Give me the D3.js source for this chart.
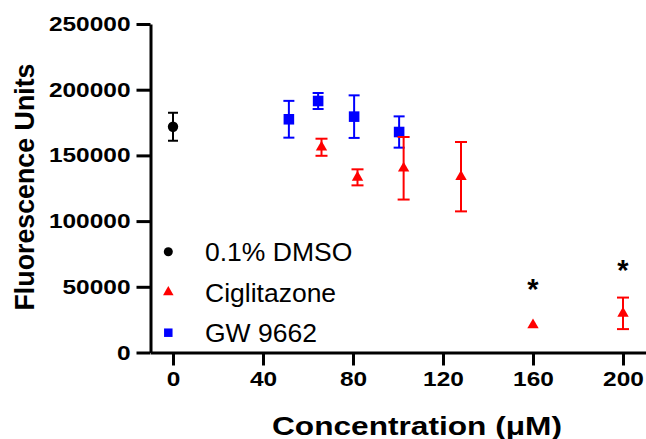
<!DOCTYPE html>
<html>
<head>
<meta charset="utf-8">
<script src="https://cdn.jsdelivr.net/npm/d3@7/dist/d3.min.js"></script>
<style>
  html, body { margin: 0; padding: 0; background: #fff; }
  svg { display: block; }
  text { font-family: "Liberation Sans", Arial, Helvetica, sans-serif; }
</style>
</head>
<body>
<svg id="chart" width="646" height="439"></svg>
<script>
// ---- data ----
const xTicks = [0, 40, 80, 120, 160, 200];
const yTicks = [0, 50000, 100000, 150000, 200000, 250000];

const dmsoX = [0];
const dmsoY = [171800];
const dmsoErr = [10650];

const gwX = [51.5, 64.5, 80.5, 100.5];
const gwY = [177500, 191400, 179500, 167800];
const gwErr = [14000, 6100, 16200, 11900];

const cigX = [66, 82, 102.5, 128, 160, 200];
const cigY = [156200, 133300, 140200, 133800, 20900, 29800];
const cigErr = [6500, 6100, 23800, 26400, 0, 12000];

const starX = [160, 200];
const starY = [51800, 66400];

const legendLabels = ["0.1% DMSO", "Ciglitazone", "GW 9662"];
const xTitle = "Concentration (\u03bcM)";
const yTitle = "Fluorescence Units";

// ---- layout ----
const svg = d3.select("#chart");
const x = d3.scaleLinear().domain([-10, 210]).range([150.5, 645.5]);
const y = d3.scaleLinear().domain([0, 250000]).range([352.5, 24]);

// axes
const gy = svg.append("g").attr("transform", `translate(${x(-10)},0)`)
  .call(d3.axisLeft(y).tickValues(yTicks).tickFormat(d3.format("d"))
    .tickSize(14).tickSizeOuter(0).tickPadding(6));
const gx = svg.append("g").attr("transform", `translate(0,${y(0)})`)
  .call(d3.axisBottom(x).tickValues(xTicks).tickFormat(d3.format("d"))
    .tickSize(13).tickSizeOuter(0).tickPadding(6));

[gy, gx].forEach(g => {
  g.attr("font-family", null).attr("font-size", null);
  g.select(".domain").attr("stroke", "#000").attr("stroke-width", 3);
  g.selectAll(".tick line").attr("stroke", "#000").attr("stroke-width", 3);
  g.selectAll(".tick text")
    .attr("fill", "#000")
    .style("font-size", "20.5px")
    .style("font-weight", "bold")
    .attr("lengthAdjust", "spacingAndGlyphs")
    .attr("textLength", function () { return this.textContent.length * 13.6; });
});

// axis titles
svg.append("text")
  .attr("x", 417).attr("y", 434.5)
  .attr("text-anchor", "middle")
  .style("font-size", "25px").style("font-weight", "bold")
  .attr("textLength", 290).attr("lengthAdjust", "spacingAndGlyphs")
  .text(xTitle);

svg.append("text")
  .attr("transform", "translate(33.5,187) rotate(-90)")
  .attr("text-anchor", "middle")
  .style("font-size", "27px").style("font-weight", "bold")
  .attr("textLength", 247).attr("lengthAdjust", "spacingAndGlyphs")
  .text(yTitle);

// ---- series ----
function drawSeries(xs, ys, errs, color, symbol, size, capW) {
  const data = xs.map((d, i) => ({ x: d, y: ys[i], e: errs[i] }));
  const g = svg.append("g");
  const eb = g.selectAll("g.eb").data(data.filter(d => d.e > 0)).join("g")
    .attr("stroke", color).attr("stroke-width", 2).attr("fill", "none");
  eb.append("line")
    .attr("x1", d => x(d.x)).attr("x2", d => x(d.x))
    .attr("y1", d => y(d.y + d.e)).attr("y2", d => y(d.y - d.e));
  eb.append("line")
    .attr("x1", d => x(d.x) - capW / 2).attr("x2", d => x(d.x) + capW / 2)
    .attr("y1", d => y(d.y + d.e)).attr("y2", d => y(d.y + d.e));
  eb.append("line")
    .attr("x1", d => x(d.x) - capW / 2).attr("x2", d => x(d.x) + capW / 2)
    .attr("y1", d => y(d.y - d.e)).attr("y2", d => y(d.y - d.e));
  g.selectAll("path.m").data(data).join("path")
    .attr("class", "m")
    .attr("d", d3.symbol().type(symbol).size(size))
    .attr("transform", d => `translate(${x(d.x)},${y(d.y)})`)
    .attr("fill", color);
}

drawSeries(dmsoX, dmsoY, dmsoErr, "#000", d3.symbolCircle, 85, 10);
drawSeries(gwX, gwY, gwErr, "#0000ff", d3.symbolSquare, 112, 11);
drawSeries(cigX, cigY, cigErr, "#ff0000", d3.symbolTriangle, 56, 12);

// significance stars
const starFs = 29;
svg.selectAll("text.star").data(starX.map((d, i) => ({ x: d, y: starY[i] }))).join("text")
  .attr("class", "star")
  .attr("x", d => x(d.x)).attr("y", d => y(d.y) + starFs * 0.5)
  .attr("text-anchor", "middle")
  .style("font-size", starFs + "px").style("font-weight", "bold")
  .attr("fill", "#000")
  .text("*");

// ---- legend ----
const legendColors = ["#000", "#ff0000", "#0000ff"];
const legendSymbols = [d3.symbolCircle, d3.symbolTriangle, d3.symbolSquare];
const legendSizes = [64, 48, 72];
const lg = svg.append("g");
legendLabels.forEach((lab, i) => {
  const cy = 251.7 + i * 40.5;
  lg.append("path")
    .attr("d", d3.symbol().type(legendSymbols[i]).size(legendSizes[i]))
    .attr("transform", `translate(168.3,${cy})`)
    .attr("fill", legendColors[i]);
  lg.append("text")
    .attr("x", 205).attr("y", cy + 9.3)
    .style("font-size", "26.5px")
    .attr("fill", "#000")
    .text(lab);
});
</script>
</body>
</html>
